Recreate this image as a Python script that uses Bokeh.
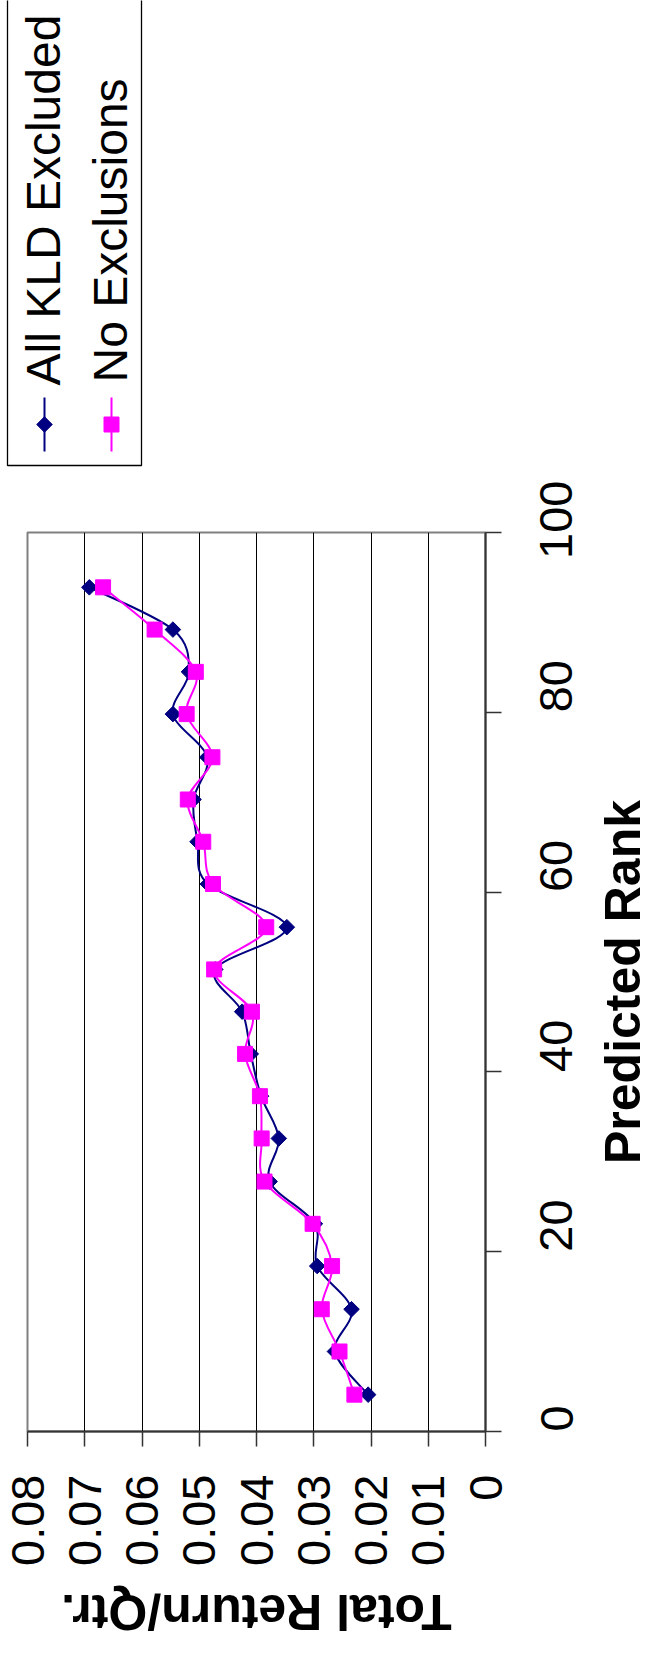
import math
from bokeh.plotting import figure
from bokeh.models import Range1d, FixedTicker
from bokeh.layouts import column, row
from bokeh.core.properties import value
from bokeh.embed import file_html
from bokeh.resources import INLINE

# ---- data ----
rank = [4.1, 8.9, 13.6, 18.4, 23.1, 27.8, 32.6, 37.3, 42.0, 46.7,
        51.4, 56.1, 60.9, 65.6, 70.3, 75.0, 79.8, 84.5, 89.2, 93.9]
kld_excluded = [0.0205, 0.0263, 0.0234, 0.0294, 0.0298, 0.0377, 0.0361, 0.0392, 0.0410, 0.0425,
                0.0472, 0.0347, 0.0485, 0.0503, 0.0510, 0.0486, 0.0546, 0.0518, 0.0546, 0.0692]
no_exclusions = [0.0229, 0.0255, 0.0286, 0.0268, 0.0302, 0.0386, 0.0391, 0.0394, 0.0420, 0.0408,
                 0.0474, 0.0383, 0.0476, 0.0493, 0.0520, 0.0477, 0.0522, 0.0506, 0.0578, 0.0668]
series_names = ["All KLD Excluded", "No Exclusions"]
series_colors = ["#000080", "#FF00FF"]
ret_ticks = [0.0, 0.01, 0.02, 0.03, 0.04, 0.05, 0.06, 0.07, 0.08]
ret_labels = ["0", "0.01", "0.02", "0.03", "0.04", "0.05", "0.06", "0.07", "0.08"]
rank_ticks = [0, 20, 40, 60, 80, 100]
x_title = "Total Return/Qtr."
y_title = "Predicted Rank"

FONT = value("Liberation Sans")
W = 651
TOP_H = 480       # legend strip   (page y 8..488)
MID_H = 1101      # main chart     (page y 488..1589)
BOT_H = 1640 - TOP_H - MID_H   # x-axis title strip
MAIN_W = 592
SIDE_W = W - MAIN_W
FR_L, FR_R, FR_T, FR_B = 27, 485, 52, 951   # frame edges in main canvas px
RET_RANGE = (0.08, 0.0)
RANK_RANGE = (0, 100)


def smooth_segments(xs, ys):
    """Catmull-Rom style Bezier control points (Excel smoothed line)."""
    n = len(xs)
    out = {k: [] for k in ("x0", "y0", "x1", "y1", "cx0", "cy0", "cx1", "cy1")}
    for i in range(n - 1):
        i0 = max(i - 1, 0)
        i3 = min(i + 2, n - 1)
        out["x0"].append(xs[i]); out["y0"].append(ys[i])
        out["x1"].append(xs[i + 1]); out["y1"].append(ys[i + 1])
        out["cx0"].append(xs[i] + (xs[i + 1] - xs[i0]) / 6.0)
        out["cy0"].append(ys[i] + (ys[i + 1] - ys[i0]) / 6.0)
        out["cx1"].append(xs[i + 1] - (xs[i3] - xs[i]) / 6.0)
        out["cy1"].append(ys[i + 1] - (ys[i3] - ys[i]) / 6.0)
    return out


def blank_fig(w, h, x_range, y_range, **borders):
    b = dict(min_border_left=0, min_border_right=0, min_border_top=0, min_border_bottom=0)
    b.update(borders)
    f = figure(width=w, height=h, x_range=x_range, y_range=y_range,
               output_backend="svg", toolbar_location=None,
               x_axis_location=None, y_axis_location=None, **b)
    f.grid.visible = False
    f.outline_line_color = None
    f.background_fill_color = "white"
    f.border_fill_color = "white"
    return f


# ---- legend strip (top), pixel coordinates ----
leg = blank_fig(W, TOP_H, Range1d(0, W), Range1d(0, TOP_H))
leg.quad(left=[7], right=[141], bottom=[TOP_H - 465], top=[TOP_H + 30],
         fill_color="white", line_color="black", line_width=1.3)
sym_x = [44, 111]
txt_mid_x = [42.5, 109.5]
txt_y = [TOP_H - 385, TOP_H - 382]
for i in range(2):
    leg.segment(x0=[sym_x[i]], y0=[TOP_H - 397], x1=[sym_x[i]], y1=[TOP_H - 451],
                line_color=series_colors[i], line_width=2)
    leg.text(x=[txt_mid_x[i]], y=[txt_y[i]], text=[series_names[i]], angle=math.pi / 2,
             text_font=FONT, text_font_size="48px", text_color="black",
             text_align="left", text_baseline="middle")
leg.scatter(x=[sym_x[0]], y=[TOP_H - 424], marker="square", angle=math.pi / 4, size=11,
            fill_color=series_colors[0], line_color=series_colors[0])
leg.scatter(x=[sym_x[1]], y=[TOP_H - 424], marker="square", size=15,
            fill_color=series_colors[1], line_color=series_colors[1])

# ---- main chart (rotated: return horizontal, rank vertical) ----
p = figure(width=MAIN_W, height=MID_H,
           x_range=Range1d(*RET_RANGE), y_range=Range1d(*RANK_RANGE),
           y_axis_location="right", output_backend="svg", toolbar_location=None,
           min_border_left=FR_L, min_border_right=MAIN_W - FR_R, min_border_top=FR_T,
           min_border_bottom=MID_H - FR_B)
p.background_fill_color = "white"
p.border_fill_color = "white"
p.outline_line_color = "#808080"
p.outline_line_width = 2

p.xaxis.ticker = FixedTicker(ticks=ret_ticks)
p.xaxis.major_label_overrides = dict(zip(ret_ticks, ret_labels))
p.yaxis.ticker = FixedTicker(ticks=rank_ticks)
for ax in (p.xaxis, p.yaxis):
    ax.major_label_orientation = math.pi / 2
    ax.major_label_text_font = "Liberation Sans"
    ax.major_label_text_font_size = "47px"
    ax.major_label_text_color = "black"
    ax.axis_line_color = "#333333"
    ax.axis_line_width = 2
    ax.major_tick_line_color = "#333333"
    ax.major_tick_line_width = 1.5
    ax.major_tick_in = 0
    ax.minor_tick_line_color = None
p.xaxis.major_tick_out = 15
p.xaxis.major_label_standoff = 28
p.yaxis.major_tick_out = 16
p.yaxis.major_label_standoff = 55

p.xgrid.ticker = FixedTicker(ticks=ret_ticks)
p.xgrid.grid_line_color = "black"
p.xgrid.grid_line_width = 1
p.ygrid.grid_line_color = None

for vals, color, marker in ((kld_excluded, series_colors[0], "diamond"),
                            (no_exclusions, series_colors[1], "square")):
    seg = smooth_segments(vals, rank)
    p.bezier(line_color=color, line_width=2, **seg)
    if marker == "diamond":
        p.scatter(x=vals, y=rank, marker="square", angle=math.pi / 4, size=11,
                  fill_color=color, line_color=color)
    else:
        p.scatter(x=vals, y=rank, marker="square", size=15,
                  fill_color=color, line_color=color)

# ---- y-axis title strip (right), same vertical frame as the chart ----
side = blank_fig(SIDE_W, MID_H, Range1d(0, SIDE_W), Range1d(*RANK_RANGE),
                 min_border_top=FR_T, min_border_bottom=MID_H - FR_B)
side.text(x=[SIDE_W - 29], y=[(RANK_RANGE[0] + RANK_RANGE[1]) / 2.0], text=[y_title],
          angle=math.pi / 2,
          text_font=FONT, text_font_size="50px", text_font_style="bold", text_color="black",
          text_align="center", text_baseline="middle")

# ---- x-axis title strip (bottom), upside down, same horizontal scale as chart ----
ret_per_px = (RET_RANGE[0] - RET_RANGE[1]) / float(FR_R - FR_L)
bot = blank_fig(W, BOT_H, Range1d(RET_RANGE[0] + FR_L * ret_per_px,
                                  RET_RANGE[0] - (W - FR_L) * ret_per_px),
                Range1d(0, BOT_H))
bot.text(x=[(RET_RANGE[0] + RET_RANGE[1]) / 2.0], y=[BOT_H - 30], text=[x_title], angle=math.pi,
         text_font=FONT, text_font_size="50px", text_font_style="bold", text_color="black",
         text_align="center", text_baseline="middle")

layout = column(leg, row(p, side), bot)
open("out.html", "w").write(file_html(layout, INLINE))
